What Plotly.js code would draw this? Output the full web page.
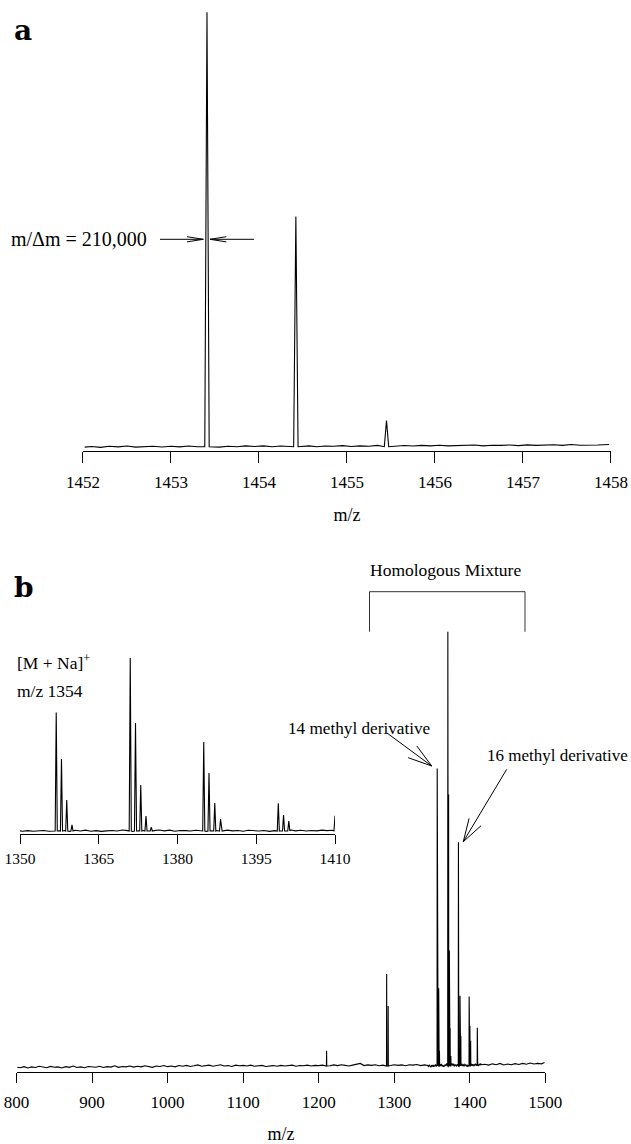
<!DOCTYPE html>
<html>
<head>
<meta charset="utf-8">
<script src="https://cdn.plot.ly/plotly-3.0.1.min.js"></script>
<style>html,body{margin:0;padding:0;background:#fff;}#chart{width:631px;height:1144px;}</style>
</head>
<body>
<div id="chart"></div>
<script>
// ---------------- DATA ----------------
// Panel a: high-resolution isotope peaks (relative intensity, %)
const aPeakMz  = [1453.41, 1454.42, 1455.45];
const aPeakInt = [100, 53, 6];
// Panel a baseline readings
const aBaseMz  = [1452.02,1452.1,1452.2,1452.3,1452.4,1452.5,1452.6,1452.7,1452.8,1452.9,1453.0,1453.1,1453.2,1453.3,1453.36,1453.47,1453.55,1453.65,1453.75,1453.85,1453.95,1454.05,1454.15,1454.25,1454.35,1454.48,1454.57,1454.66,1454.75,1454.85,1454.95,1455.05,1455.15,1455.25,1455.35,1455.41,1455.49,1455.55,1455.65,1455.75,1455.85,1455.95,1456.05,1456.15,1456.25,1456.35,1456.45,1456.55,1456.65,1456.75,1456.85,1456.95,1457.05,1457.15,1457.25,1457.35,1457.45,1457.55,1457.65,1457.75,1457.85,1457.98];
const aBaseInt = [-0.1,0.05,-0.15,0.1,-0.05,0.15,-0.1,0.0,0.12,-0.08,0.1,-0.05,0.15,0.0,0.1,0.05,-0.1,0.12,0.0,0.18,0.05,0.2,-0.02,0.15,0.1,0.05,0.2,0.0,0.15,0.1,0.25,0.05,0.2,0.12,0.3,0.2,0.25,0.1,0.28,0.15,0.3,0.2,0.35,0.18,0.3,0.25,0.38,0.2,0.35,0.3,0.4,0.25,0.42,0.3,0.38,0.45,0.3,0.5,0.35,0.45,0.4,0.5];

// Panel b: MALDI spectrum peaks (relative intensity, %)
const bPeakMz  = [1210.5, 1290.0, 1292.0, 1356.9, 1357.9, 1358.9, 1359.9, 1371.0, 1372.0, 1373.0, 1374.0, 1375.0, 1385.0, 1386.0, 1387.1, 1388.2, 1399.2, 1400.2, 1401.2, 1410.0];
const bPeakInt = [3.5, 21.2, 13.8, 68.5, 41.6, 17.9, 3.5, 100, 62.5, 26.6, 8.7, 2.3, 51.5, 33.5, 16.2, 6.9, 16.0, 9.2, 5.8, 8.8];
// Panel b baseline readings
const bBaseMz = [
  801,805,810,815,820,825,830,835,840,845,850,
  855,860,865,870,875,880,885,890,895,900,
  905,910,915,920,925,930,935,940,945,950,
  955,960,965,970,975,980,985,990,995,1000,
  1005,1010,1015,1020,1025,1030,1035,1040,1045,1050,
  1055,1060,1065,1070,1075,1080,1085,1090,1095,1100,
  1105,1110,1115,1120,1125,1130,1135,1140,1145,1150,
  1155,1160,1165,1170,1175,1180,1185,1190,1195,1200,
  1205,1215,1220,1225,1230,1235,1240,1245,1250,
  1255,1260,1265,1270,1275,1280,1285,
  1295,1300,1305,1310,1315,1320,1325,1330,1335,1340,
  1344.5,1345.5,1346.5,1347.5,1348.5,1349.5,1350.5,1351.5,1352.5,1353.5,
  1354.5,1355.5,1356.5,1357.5,1358.5,1359.5,1360.5,1361.5,1362.5,1363.5,
  1364.5,1365.5,1366.5,1367.5,1368.5,1369.5,1370.5,1371.5,1372.5,1373.5,
  1374.5,1375.5,1376.5,1377.5,1378.5,1379.5,1380.5,1381.5,1382.5,1383.5,
  1384.5,1385.5,1386.5,1387.5,1388.5,1389.5,1390.5,1391.5,1392.5,1393.5,
  1394.5,1395.5,1396.5,1397.5,1398.5,1399.5,1400.5,1401.5,1402.5,1403.5,
  1404.5,1405.5,1406.5,1407.5,1408.5,1409.5,1410.5,1411.5,1412.5,1413.5,1414.5,1415.5,
  1420,1425,1430,1435,1440,1445,1450,1455,1460,1465,1470,1475,1480,1485,1490,1495,1499
];
const bBaseInt = [
  -0.3,-0.4,-0.15,-0.45,-0.2,-0.35,-0.05,-0.3,-0.4,-0.1,-0.3,
  -0.2,-0.45,-0.15,-0.3,0.0,-0.35,-0.2,-0.4,-0.1,-0.25,
  -0.3,-0.05,-0.35,-0.15,-0.25,0.05,-0.3,-0.1,-0.2,0.0,
  -0.25,-0.05,-0.2,0.05,-0.15,-0.3,0.0,-0.1,0.1,-0.15,
  0.0,-0.2,0.1,-0.05,0.15,-0.1,0.05,0.25,-0.05,0.1,
  0.2,-0.05,0.15,0.3,0.0,0.1,-0.1,0.2,0.05,0.15,
  0.0,0.2,-0.05,0.1,0.15,-0.1,0.05,0.1,-0.05,0.15,
  0.0,0.1,0.2,-0.05,0.1,0.05,0.2,0.0,0.15,0.1,
  0.2,0.05,0.25,0.1,0.3,0.15,0.0,0.2,0.35,
  0.6,0.1,0.25,0.15,0.3,0.05,0.2,
  0.1,0.3,0.15,0.25,0.05,0.3,0.2,0.35,0.1,0.25,
  0.1,-0.2,0.3,0.0,-0.3,0.2,-0.1,0.25,-0.15,0.1,
  0.3,-0.1,0.2,0.1,0.3,-0.2,0.4,0.0,0.5,-0.1,
  0.2,-0.2,0.1,0.3,0.0,0.6,0.2,-0.3,0.1,0.3,
  0.0,0.2,0.6,0.1,0.5,-0.1,0.3,0.2,0.0,0.4,
  0.0,-0.2,0.1,0.3,0.0,0.5,0.1,0.3,-0.1,0.4,
  0.2,0.0,0.3,-0.2,0.2,0.1,0.0,0.6,0.1,0.4,
  0.0,0.3,0.1,0.5,0.2,0.4,0.3,0.1,0.4,0.2,0.5,0.3,
  0.4,0.2,0.5,0.3,0.6,0.25,0.45,0.3,0.55,0.35,0.6,0.4,0.7,0.45,0.6,0.5,0.8
];

// Tick values
const aTicks = [1452, 1453, 1454, 1455, 1456, 1457, 1458];
const bTicks = [800, 900, 1000, 1100, 1200, 1300, 1400, 1500];
const insetTicks = [1350, 1365, 1380, 1395, 1410];

// ---------------- BUILD ----------------
const W = 631, H = 1144;
function buildSpectrum(baseMz, baseInt, peakMz, peakInt, hw) {
  const pts = [];
  baseMz.forEach((m, i) => {
    if (!peakMz.some(p => Math.abs(p - m) < hw + 0.05)) pts.push([m, baseInt[i]]);
  });
  peakMz.forEach((p, i) => {
    pts.push([p - hw, 0]);
    pts.push([p, peakInt[i]]);
    pts.push([p + hw, 0]);
  });
  pts.sort((u, v) => u[0] - v[0]);
  return { x: pts.map(p => p[0]), y: pts.map(p => p[1]) };
}
const specA = buildSpectrum(aBaseMz, aBaseInt, aPeakMz, aPeakInt, 0.025);
const specB = buildSpectrum(bBaseMz, bBaseInt, bPeakMz, bPeakInt, 0.2);

const FONT = 'Liberation Serif, Times New Roman, serif';
const lineStyle = { color: '#000', width: 1.1 };

const traces = [
  { x: specA.x, y: specA.y, xaxis: 'x', yaxis: 'y', mode: 'lines', line: lineStyle, hoverinfo: 'skip' },
  { x: specB.x, y: specB.y, xaxis: 'x2', yaxis: 'y2', mode: 'lines', line: lineStyle, hoverinfo: 'skip' },
  { x: specB.x, y: specB.y, xaxis: 'x3', yaxis: 'y3', mode: 'lines', line: lineStyle, hoverinfo: 'skip' }
];

function P(x, y) { return (x / W).toFixed(5) + ',' + (1 - y / H).toFixed(5); }
function arrowShape(x0, y0, x1, y1, len, angDeg) {
  const ang = Math.atan2(y1 - y0, x1 - x0), a = angDeg * Math.PI / 180;
  const b1x = x1 - len * Math.cos(ang - a), b1y = y1 - len * Math.sin(ang - a);
  const b2x = x1 - len * Math.cos(ang + a), b2y = y1 - len * Math.sin(ang + a);
  return {
    type: 'path', xref: 'paper', yref: 'paper',
    path: 'M' + P(x0, y0) + 'L' + P(x1, y1) + 'M' + P(b1x, b1y) + 'L' + P(x1, y1) + 'L' + P(b2x, b2y),
    line: { color: '#000', width: 1 }
  };
}

const axisCommon = {
  showline: true, linecolor: '#000', linewidth: 1,
  ticks: 'outside', tickcolor: '#000', tickwidth: 1,
  showgrid: false, zeroline: false, fixedrange: true,
  tickfont: { family: FONT, size: 17, color: '#000' }
};

const layout = {
  width: W, height: H,
  margin: { l: 0, r: 0, t: 0, b: 0, pad: 0 },
  paper_bgcolor: '#fff', plot_bgcolor: 'rgba(0,0,0,0)',
  showlegend: false,
  font: { family: FONT, color: '#000' },
  xaxis: Object.assign({}, axisCommon, {
    domain: [82.9 / W, 610.9 / W], range: [1452, 1458], anchor: 'y',
    tickvals: aTicks, ticklen: 11, ticklabelstandoff: 5,
    title: { text: 'm/z', font: { family: FONT, size: 18, color: '#000' }, standoff: 17 }
  }),
  yaxis: { domain: [1 - 450.7 / H, 1 - 10 / H], range: [-0.92, 100.53], visible: false, fixedrange: true, anchor: 'x' },
  xaxis2: Object.assign({}, axisCommon, {
    domain: [16.5 / W, 545.3 / W], range: [800, 1500], anchor: 'y2',
    tickvals: bTicks, ticklen: 10, ticklabelstandoff: 5,
    title: { text: 'm/z', font: { family: FONT, size: 18, color: '#000' }, standoff: 17 }
  }),
  yaxis2: { domain: [1 - 1071.7 / H, 1 - 630 / H], range: [-1.31, 100.39], visible: false, fixedrange: true, anchor: 'x2' },
  xaxis3: Object.assign({}, axisCommon, {
    domain: [20 / W, 335 / W], range: [1350, 1410], anchor: 'y3',
    tickvals: insetTicks, ticklen: 9, ticklabelstandoff: 1,
    tickfont: { family: FONT, size: 15.5, color: '#000' }
  }),
  yaxis3: { domain: [1 - 834 / H, 1 - 656 / H], range: [-1.73, 101.2], visible: false, fixedrange: true, anchor: 'x3' },
  shapes: [
    arrowShape(160, 239.3, 203.3, 239.3, 16.5, 9),
    arrowShape(254, 239.3, 210, 239.3, 16.5, 9),
    { type: 'path', xref: 'paper', yref: 'paper',
      path: 'M' + P(369.5, 631.7) + 'L' + P(369.5, 591.7) + 'L' + P(525, 591.7) + 'L' + P(525, 631.7),
      line: { color: '#333', width: 1 } },
    arrowShape(387, 733, 431.7, 766, 25, 17),
    arrowShape(506.7, 769.3, 463.3, 841.7, 24, 17)
  ],
  annotations: [
    { text: '<b>a</b>', xref: 'paper', yref: 'paper', x: 12 / W, y: 1 - 31 / H, xanchor: 'left', yanchor: 'middle', showarrow: false,
      font: { family: 'DejaVu Serif, serif', size: 28, color: '#000' } },
    { text: '<b>b</b>', xref: 'paper', yref: 'paper', x: 12 / W, y: 1 - 587 / H, xanchor: 'left', yanchor: 'middle', showarrow: false,
      font: { family: 'DejaVu Serif, serif', size: 28, color: '#000' } },
    { text: 'm/Δm = 210,000', xref: 'paper', yref: 'paper', x: 9 / W, y: 1 - 239 / H, xanchor: 'left', yanchor: 'middle', showarrow: false,
      font: { family: FONT, size: 20, color: '#000' } },
    { text: 'Homologous Mixture', xref: 'paper', yref: 'paper', x: 445 / W, y: 1 - 570 / H, xanchor: 'center', yanchor: 'middle', showarrow: false,
      font: { family: FONT, size: 17.5, color: '#000' } },
    { text: '[M + Na]<sup>+</sup>', xref: 'paper', yref: 'paper', x: 15 / W, y: 1 - 662 / H, xanchor: 'left', yanchor: 'middle', showarrow: false,
      font: { family: FONT, size: 17.5, color: '#000' } },
    { text: 'm/z 1354', xref: 'paper', yref: 'paper', x: 15 / W, y: 1 - 691 / H, xanchor: 'left', yanchor: 'middle', showarrow: false,
      font: { family: FONT, size: 17.5, color: '#000' } },
    { text: '14 methyl derivative', xref: 'paper', yref: 'paper', x: 286 / W, y: 1 - 728 / H, xanchor: 'left', yanchor: 'middle', showarrow: false,
      font: { family: FONT, size: 17.2, color: '#000' } },
    { text: '16 methyl derivative', xref: 'paper', yref: 'paper', x: 630 / W, y: 1 - 755 / H, xanchor: 'right', yanchor: 'middle', showarrow: false,
      font: { family: FONT, size: 17, color: '#000' } }
  ]
};

Plotly.newPlot('chart', traces, layout, { staticPlot: true, displayModeBar: false });
</script>
</body>
</html>
